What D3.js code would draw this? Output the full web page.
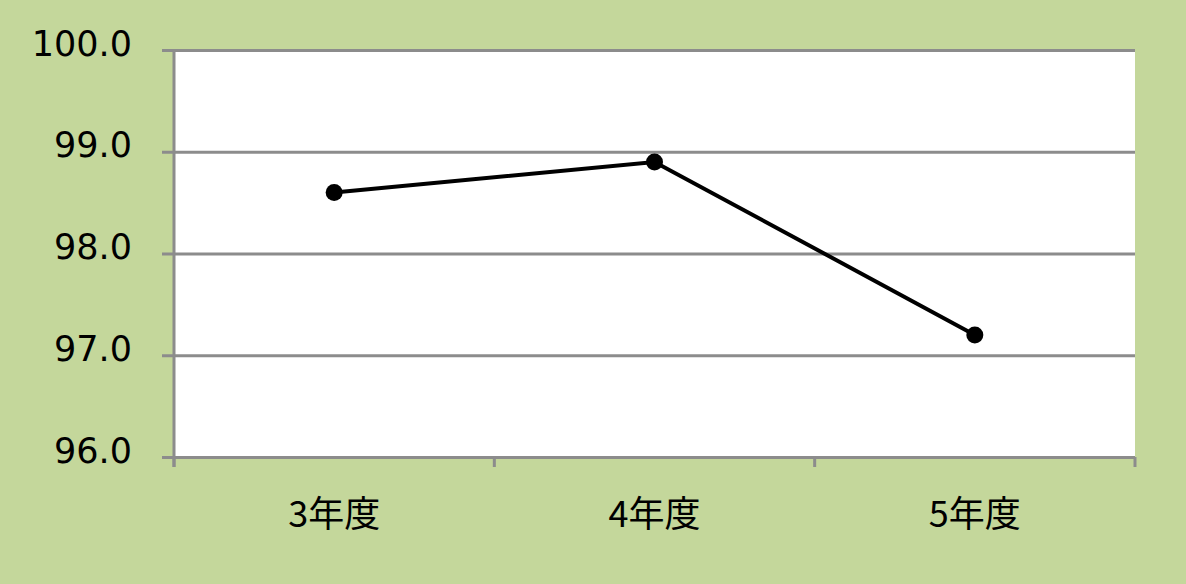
<!DOCTYPE html>
<html lang="ja">
<head>
<meta charset="utf-8">
<title>年度別推移</title>
<script src="https://cdn.jsdelivr.net/npm/d3@7"></script>
<style>
  body { margin: 0; background: #c4d79b; }
  .ylab { font-family: "DejaVu Sans", Verdana, sans-serif; font-size: 35px; fill: #000; }
  .xlab { font-family: "Noto Sans CJK JP", sans-serif; font-size: 36px; fill: #000; }
</style>
</head>
<body>
<div id="chart"></div>
<script>
// données
const categories = ["3年度", "4年度", "5年度"];
const values = [98.6, 98.9, 97.2];
const yTicks = [96, 97, 98, 99, 100];

const width = 1186, height = 584;
const margin = { top: 50, right: 51, bottom: 127, left: 174 };

const svg = d3.select("#chart").append("svg")
    .attr("width", width)
    .attr("height", height)
    .style("display", "block");

svg.append("rect")
    .attr("width", width).attr("height", height)
    .attr("fill", "#c4d79b");

const x = d3.scaleBand()
    .domain(categories)
    .range([margin.left, width - margin.right]);

const y = d3.scaleLinear()
    .domain([96, 100])
    .range([height - margin.bottom, margin.top]);

// zone du graphique
svg.append("rect")
    .attr("x", margin.left)
    .attr("y", margin.top)
    .attr("width", width - margin.left - margin.right)
    .attr("height", height - margin.top - margin.bottom)
    .attr("fill", "#fff");

// grille + axe Y
const yAxis = svg.append("g")
    .attr("transform", `translate(${margin.left},0)`)
    .call(d3.axisLeft(y)
        .tickValues(yTicks)
        .tickSize(12)
        .tickPadding(30)
        .tickFormat(d3.format(".1f")));
yAxis.select(".domain").remove();
yAxis.selectAll(".tick line")
    .attr("x2", width - margin.right - margin.left)
    .attr("x1", -12)
    .attr("stroke", "#8c8c8c")
    .attr("stroke-width", 3);
yAxis.selectAll(".tick text")
    .attr("class", "ylab")
    .attr("dy", "0.32em")
    .attr("y", -6);
yAxis.attr("font-size", null).attr("font-family", null);

// ligne verticale gauche
svg.append("line")
    .attr("x1", margin.left).attr("x2", margin.left)
    .attr("y1", margin.top).attr("y2", height - margin.bottom + 10)
    .attr("stroke", "#8c8c8c").attr("stroke-width", 3);

// axe X
const xAxis = svg.append("g")
    .attr("transform", `translate(0,${height - margin.bottom})`)
    .call(d3.axisBottom(x).tickSize(0).tickPadding(52));
xAxis.select(".domain").remove();
xAxis.attr("font-size", null).attr("font-family", null);
xAxis.selectAll(".tick text").attr("class", "xlab").attr("dy", "0.5em");

// graduations entre catégories
const bounds = categories.map(c => x(c)).concat([x(categories[categories.length - 1]) + x.bandwidth()]);
svg.selectAll(".xtick")
    .data(bounds)
    .enter().append("line")
    .attr("x1", d => d).attr("x2", d => d)
    .attr("y1", height - margin.bottom)
    .attr("y2", height - margin.bottom + 10)
    .attr("stroke", "#8c8c8c").attr("stroke-width", 3);

// ligne de données
const line = d3.line()
    .x((d, i) => x(categories[i]) + x.bandwidth() / 2)
    .y(d => y(d));

svg.append("path")
    .datum(values)
    .attr("d", line)
    .attr("fill", "none")
    .attr("stroke", "#000")
    .attr("stroke-width", 4);

svg.selectAll(".pt")
    .data(values)
    .enter().append("circle")
    .attr("cx", (d, i) => x(categories[i]) + x.bandwidth() / 2)
    .attr("cy", d => y(d))
    .attr("r", 8.5)
    .attr("fill", "#000");
</script>
</body>
</html>
